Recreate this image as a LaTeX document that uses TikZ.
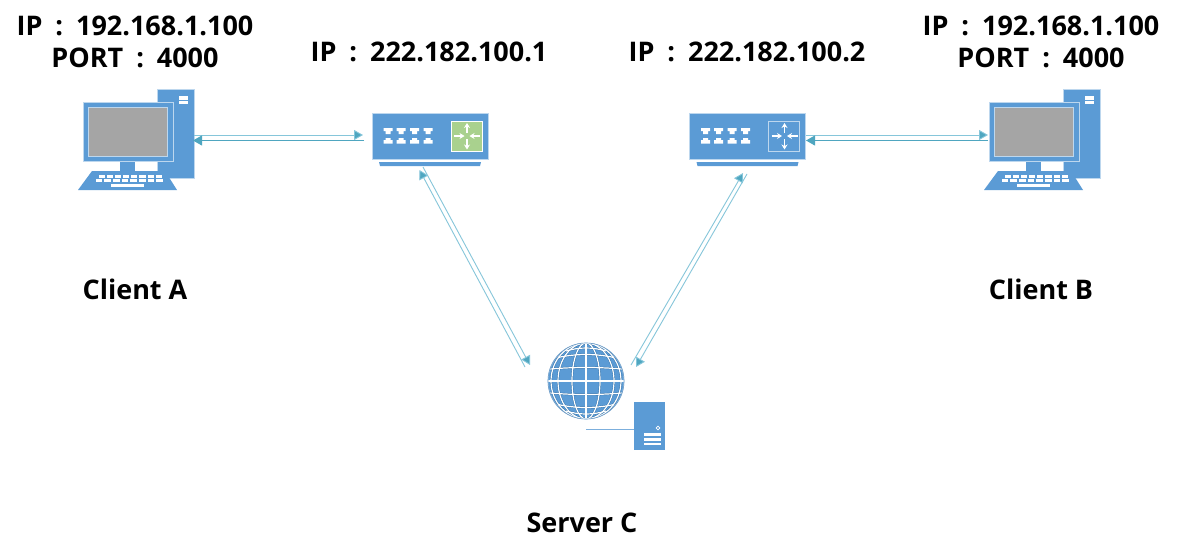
\documentclass[tikz,border=0pt]{standalone}
\usepackage{fontspec}
\setmainfont{Open Sans}
\usetikzlibrary{arrows.meta}
\definecolor{iconblue}{HTML}{5B9BD5}
\definecolor{iconedge}{HTML}{BDD7EE}
\definecolor{linkdark}{HTML}{4FA6C0}
\definecolor{linklight}{HTML}{86C6DA}
\definecolor{screen}{HTML}{A5A5A5}
\definecolor{boxgreen}{HTML}{A9D18E}
\definecolor{globedark}{HTML}{2F6EA6}
\newcommand{\wcolon}{\hspace{0.22em}:\hspace{0.22em}}
\tikzset{
  x=1pt,y=-1pt,
  label text/.style={font=\fontsize{27}{32}\selectfont\bfseries,inner sep=0pt,text=black},
  icon part/.style={fill=iconblue,draw=iconedge,line width=0.7pt},
  icon plain/.style={fill=iconblue,draw=none},
  white part/.style={fill=white,draw=none},
  link strong/.style={draw=linkdark,line width=0.9pt,-{Triangle[length=9pt,width=10pt,fill=linkdark]}},
  link pale/.style={draw=linklight,line width=0.9pt,-{Triangle[length=9pt,width=10pt,fill=linkdark]}},
  inner arrow/.style={draw=white,line width=1.2pt,-{Stealth[length=5pt,width=6pt]}},
}
\newcommand{\pcicon}[2]{%
\begin{scope}[shift={(#1,0)}]
  \draw[icon part] (157,89) rectangle (194,178);
  \fill[white part] (179,96) rectangle (188,100);
  \fill[white part] (179,101) rectangle (188,104);
  \draw[icon part] (83,102) rectangle (173,161);
  \draw[fill=screen,draw=iconedge,line width=0.7pt] (88,107) rectangle (167,156);
  \fill[icon plain] (120,161.5) rectangle (135,171);
  \fill[icon plain] (92,171) -- (165,171) -- (177,190) -- (78,190) -- cycle;
  \foreach \r/\a/\b/\c in {175/98/163/8,179/95/164/8}{%
    \foreach \k in {0,...,7}{%
      \fill[white part] ({\a+\k*(\b-\a)/8+0.8},\r) rectangle ++({(\b-\a)/8-2},2.5);
    }%
  }
  \fill[white part] (111,184) rectangle (144,187);
  \coordinate (#2) at (175,140);
\end{scope}}
\newcommand{\switchicon}[4]{%
\begin{scope}[shift={(#1,0)}]
  \draw[icon part] (372,113) rectangle (488,159);
  \fill[icon plain] (379,162) -- (481,162) -- (480,166) -- (380,166) -- cycle;
  \foreach \cx in {388,401,414.5,428}{%
    \fill[white part] (\cx-4.5,128) -- (\cx+4.5,128) -- (\cx+4.5,131) -- (\cx+2.5,131) -- (\cx+2.5,134) -- (\cx-2.5,134) -- (\cx-2.5,131) -- (\cx-4.5,131) -- cycle;
    \fill[white part] (\cx-2.5,138) -- (\cx+2.5,138) -- (\cx+2.5,140) -- (\cx+4.5,140) -- (\cx+4.5,143.5) -- (\cx-4.5,143.5) -- (\cx-4.5,140) -- (\cx-2.5,140) -- cycle;
  }
  \draw[fill=#3,draw=#4,line width=0.9pt] (451,121) rectangle (482,151);
  \coordinate (#2) at (467,136);
  \draw[inner arrow] (467,133) -- (467,123);
  \draw[inner arrow] (467,139) -- (467,149.5);
  \draw[inner arrow] (454,136) -- (464.5,136);
  \draw[inner arrow] (480,136) -- (469.5,136);
\end{scope}}
\newcommand{\globelines}{%
  \draw (586,381) ellipse (14 and 38);
  \draw (586,381) ellipse (28 and 38);
  \draw (586,381) ellipse (35 and 38);
  \draw (586,343) -- (586,419);
  \draw (548,381) -- (624,381);
  \foreach \d/\h/\b in {13.5/36/1.5,26.5/28/3,33/20/3}{%
    \draw (586-\h,381-\d+\b) .. controls (586-\h/3,381-\d-\b/3) and (586+\h/3,381-\d-\b/3) .. (586+\h,381-\d+\b);
    \draw (586-\h,381+\d-\b) .. controls (586-\h/3,381+\d+\b/3) and (586+\h/3,381+\d+\b/3) .. (586+\h,381+\d-\b);
  }
}
\begin{document}
\begin{tikzpicture}
\useasboundingbox (0,0) rectangle (1177,555);
\fill[white] (0,0) rectangle (1177,555);

% icons
\pcicon{0}{pca}
\pcicon{906}{pcb}
\switchicon{0}{swa}{boxgreen}{white}
\switchicon{317.5}{swb}{iconblue}{iconedge}

% globe + server
\node[circle,minimum size=76pt,inner sep=0pt,fill=iconblue,draw=iconedge,line width=0.6pt] (globe) at (586,381) {};
\begin{scope}
  \clip (586,381) circle (38);
  \begin{scope}[draw=globedark,line width=2pt]\globelines\end{scope}
  \begin{scope}[draw=white,line width=1.2pt]\globelines\end{scope}
\end{scope}
\draw[iconedge!50!globedark,line width=0.7pt] (586,381) circle (38);
\node[rectangle,minimum width=31pt,minimum height=48pt,inner sep=0pt,fill=iconblue] (server) at (649.5,426) {};
\coordinate (serverstub) at (586,429);
\draw[iconblue!80!white,line width=0.9pt] (serverstub) -- (server.west |- serverstub);
\draw[white,line width=0.7pt] (658,428) circle (1.8);
\fill[white] (644,433) rectangle (661,436);
\fill[white] (644,438) rectangle (661,440.5);
\fill[white] (644,442.5) rectangle (661,445);

% link end points
\coordinate (a1) at (194,135);   \coordinate (a2) at (363,135);
\coordinate (a3) at (364,140.5); \coordinate (a4) at (193,140.5);
\coordinate (b1) at (806,135);   \coordinate (b2) at (988,135);
\coordinate (b3) at (988,140.5); \coordinate (b4) at (806,140.5);
\coordinate (c1) at (423,167);   \coordinate (c2) at (530,365);
\coordinate (c3) at (525,367);   \coordinate (c4) at (419.5,170);
\coordinate (d1) at (631,365);   \coordinate (d2) at (743,173);
\coordinate (d3) at (747,174);   \coordinate (d4) at (636,367);

\draw[link pale]   (a1) -- (a2);
\draw[link strong] (a3) -- (a4);
\draw[link pale]   (b1) -- (b2);
\draw[link strong] (b3) -- (b4);
\draw[link pale]   (c1) -- (c2);
\draw[link pale]   (c3) -- (c4);
\draw[link pale]   (d1) -- (d2);
\draw[link pale]   (d3) -- (d4);

% labels
\node[label text] (ipa)   at (135,26) {IP \wcolon{} 192.168.1.100};
\node[label text] (porta) at (135,58) {PORT \wcolon{} 4000};
\node[label text] (ipsa)  at (429,52) {IP \wcolon{} 222.182.100.1};
\node[label text] (ipsb)  at (747,52) {IP \wcolon{} 222.182.100.2};
\node[label text] (ipb)   at (1041,26) {IP \wcolon{} 192.168.1.100};
\node[label text] (portb) at (1041,58) {PORT \wcolon{} 4000};
\node[label text] (cla)   at (135,289) {Client A};
\node[label text] (clb)   at (1041,289) {Client B};
\node[label text] (srv)   at (582,523) {Server C};
\end{tikzpicture}
\end{document}
